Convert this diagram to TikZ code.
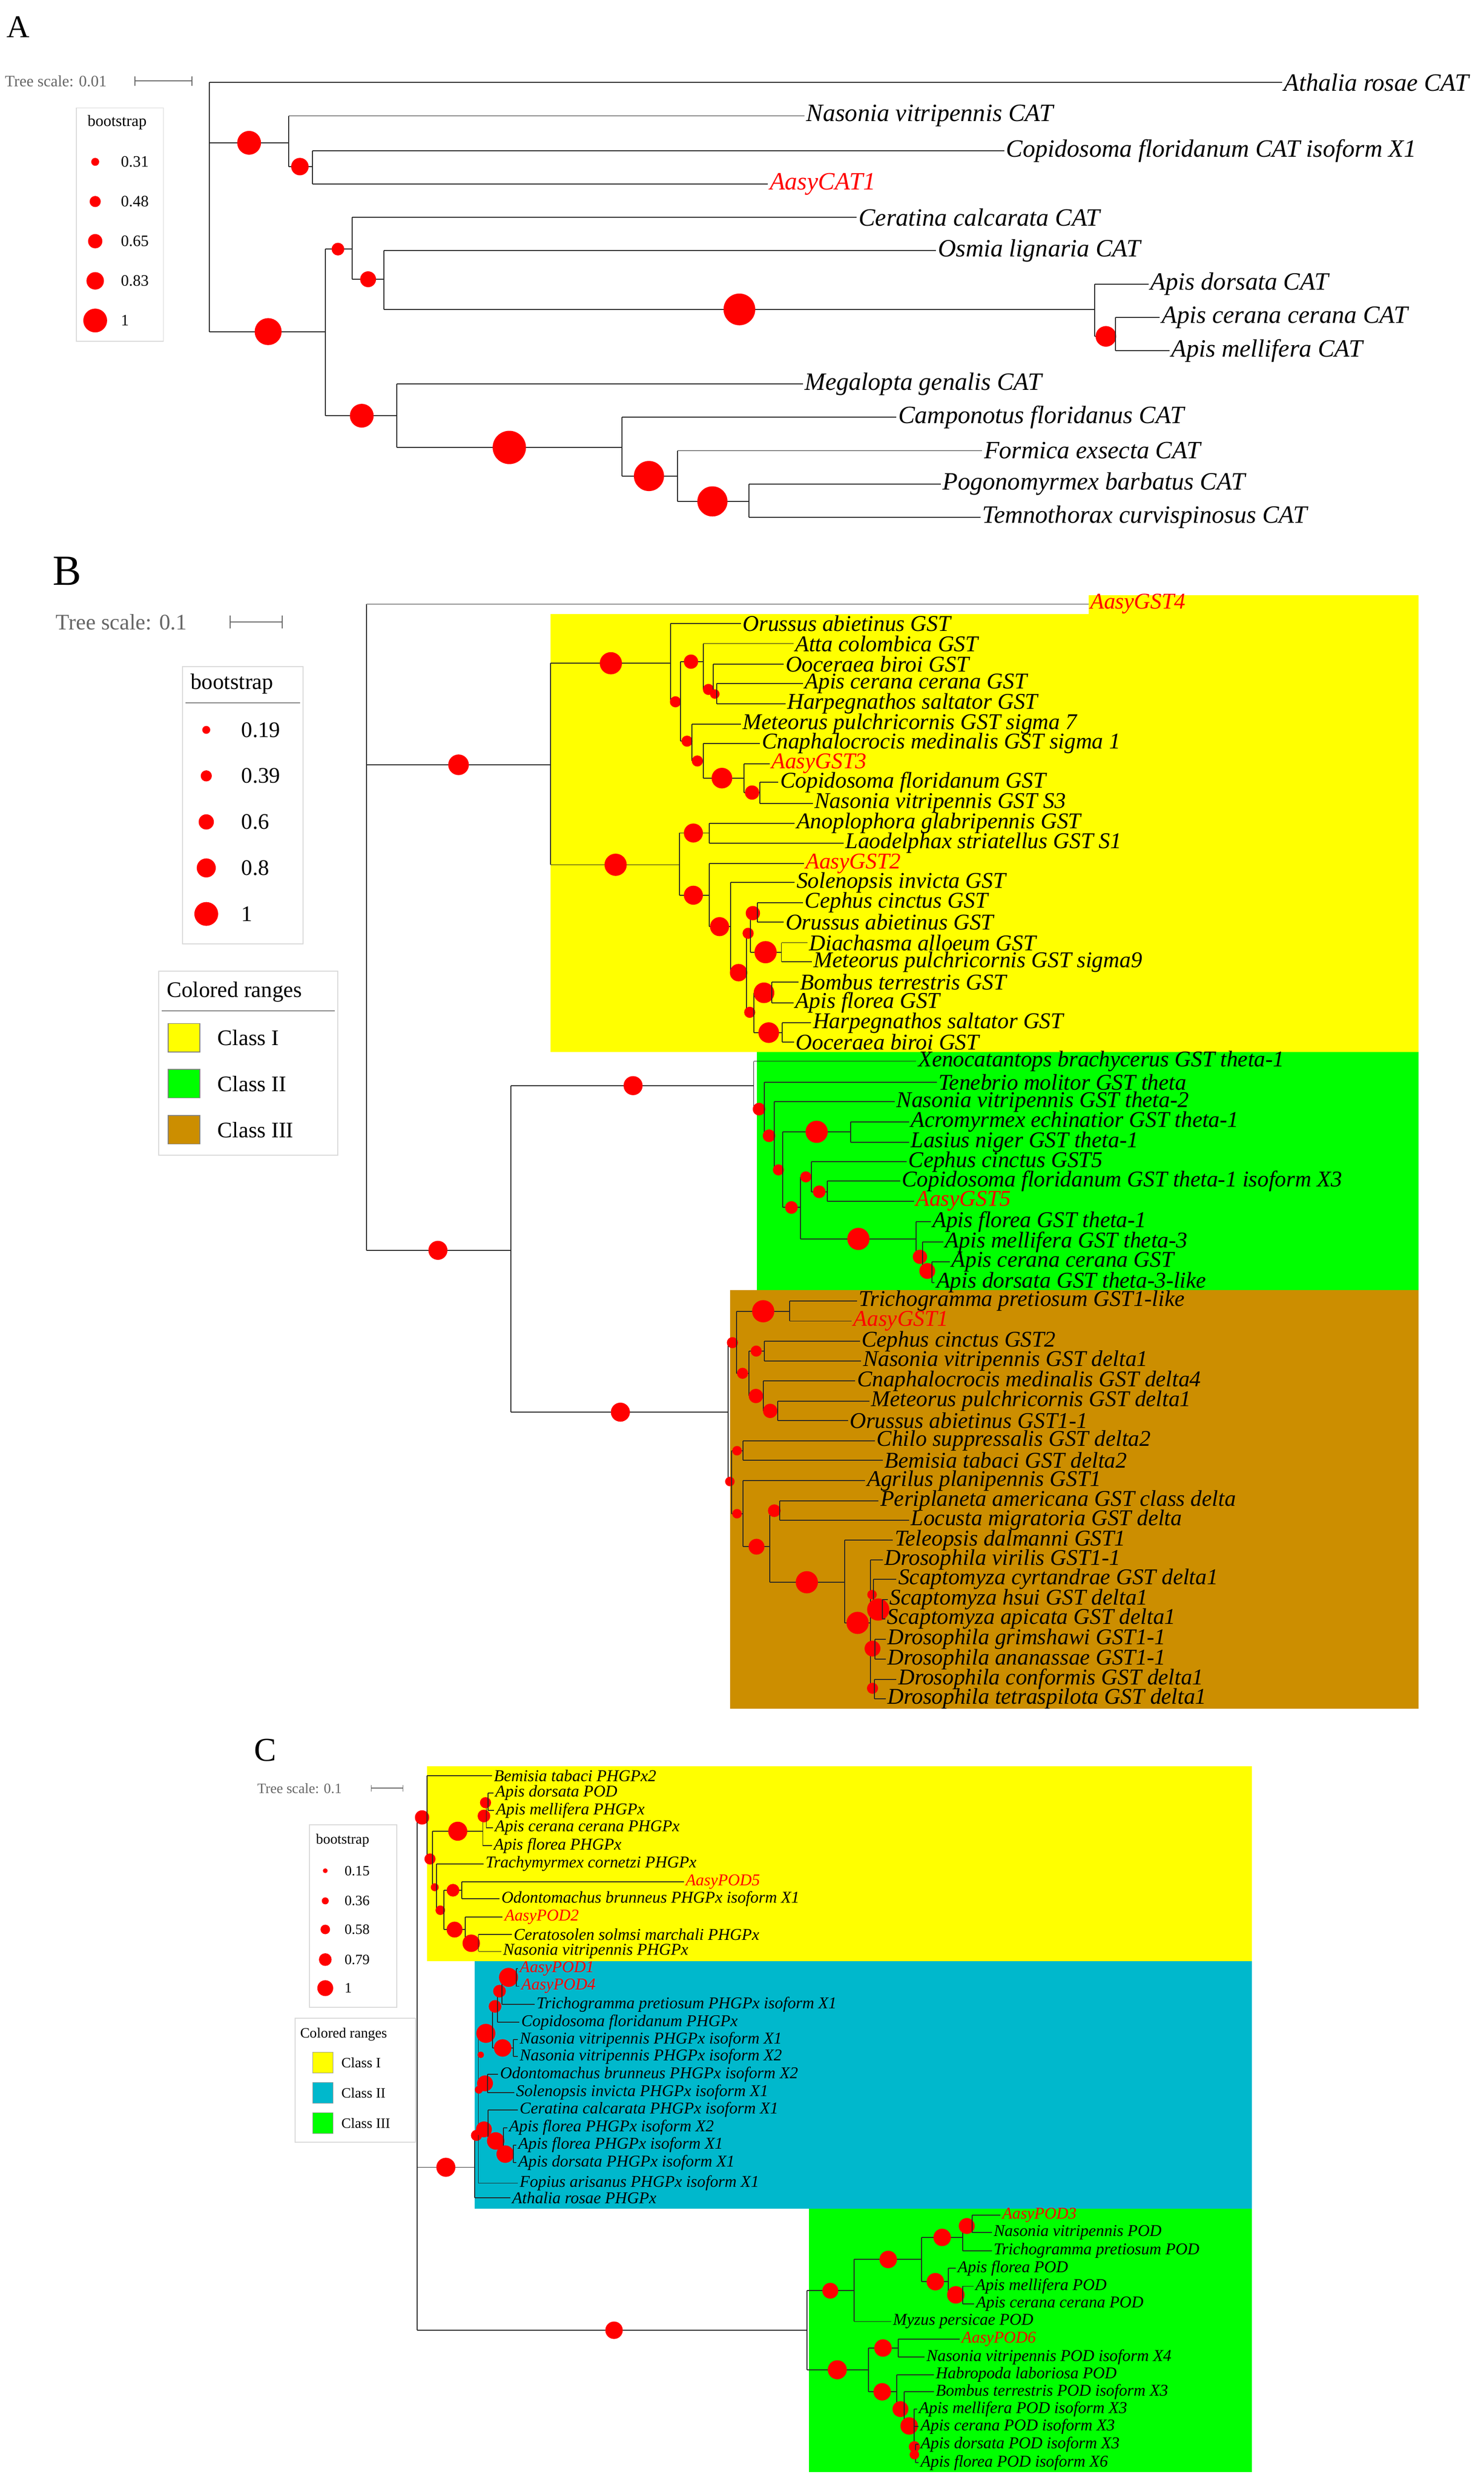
\documentclass[tikz,border=0pt]{standalone}
\usepackage{fontspec}
\setmainfont{Liberation Serif}
\newcounter{lfc}
\definecolor{cyel}{HTML}{FFFF00}
\definecolor{cgrn}{HTML}{00FF00}
\definecolor{cbrn}{HTML}{CC8E00}
\definecolor{ctea}{HTML}{00B8CC}
\definecolor{bsred}{HTML}{FF0000}
\tikzset{tl/.style={line width=0.6pt,draw=black!85},
 bs/.style={fill=bsred},
 lgbox/.style={draw=black!15,line width=0.6pt},
 lgtext/.style={anchor=west,inner sep=0pt},
 scl/.style={text=black!60,anchor=west,inner sep=0pt}}
\newcommand\LF[5][black]{\draw[tl] (#2,#4) -- (#3,#4);\stepcounter{lfc}\node[lf,text=#1,anchor=west,inner sep=1pt] (leaf\arabic{lfc}) at (#3,#4) {#5};}
\newcommand\BR[5]{\draw[tl] (#1,#3) -- (#2,#3);\fill[bs] (#4,#3) circle (#5pt);}
\newcommand\IN[3]{\draw[tl] (#1,#2) -- (#1,#3);}
\newcommand\Bs[3]{\fill[bs] (#1,#2) circle (#3pt);}
\begin{document}
\begin{tikzpicture}[x=1pt,y=-1pt]
\useasboundingbox (0,0) rectangle (935,1563);
\fill[white] (0,0) rectangle (935,1563);
% ================= Panel A =================
\node[anchor=west,inner sep=0pt,font=\fontsize{20}{20}\selectfont] (lettA) at (4,17) {A};
\node[scl,font=\fontsize{10}{10}\selectfont] (tsA) at (3,51) {Tree scale: 0.01};
\draw[black!60,line width=0.5pt] (85,51) -- (121,51) (85,48) -- (85,54) (121,48) -- (121,54);
\draw[lgbox] (48,68) rectangle (103,215);
\node[lgtext,font=\fontsize{10}{10}\selectfont] (bsA) at (55,77) {bootstrap};
\foreach \y/\r/\t in {102/2.5/0.31,127/3.5/0.48,152/4.5/0.65,177/5.5/0.83,202/7.5/1}{
 \fill[bs] (60,\y) circle (\r pt); \node[lgtext,font=\fontsize{10}{10}\selectfont] at (76,\y) {\t};}
\begin{scope}
\tikzset{lf/.style={font=\fontsize{15.7}{15.7}\selectfont\itshape}}
\IN{132}{52}{209}
\LF{132}{808}{52}{Athalia rosae CAT}
\BR{132}{182}{90}{157}{7.5}\IN{182}{73}{105}
\LF{182}{507}{73}{Nasonia vitripennis CAT}
\BR{182}{197}{105}{189}{5.5}\IN{197}{95}{116}
\LF{197}{633}{95}{Copidosoma floridanum CAT isoform X1}
\LF[red]{197}{484}{116}{AasyCAT1}
\BR{132}{205}{209}{169}{8.5}\IN{205}{157}{262}
\BR{205}{222}{157}{213}{4}\IN{222}{137}{176}
\LF{222}{540}{137}{Ceratina calcarata CAT}
\BR{222}{242}{176}{232}{5}\IN{242}{158}{195}
\LF{242}{590}{158}{Osmia lignaria CAT}
\BR{242}{690}{195}{466}{10}\IN{690}{179}{212}
\LF{690}{724}{179}{Apis dorsata CAT}
\BR{690}{703}{212}{697}{6.5}\IN{703}{200}{221}
\LF{703}{731}{200}{Apis cerana cerana CAT}
\LF{703}{737}{221}{Apis mellifera CAT}
\BR{205}{250}{262}{228}{7.5}\IN{250}{242}{282}
\LF{250}{506}{242}{Megalopta genalis CAT}
\BR{250}{392}{282}{321}{10.5}\IN{392}{263}{300}
\LF{392}{565}{263}{Camponotus floridanus CAT}
\BR{392}{427}{300}{409}{9.5}\IN{427}{284}{316}
\LF{427}{619}{284}{Formica exsecta CAT}
\BR{427}{472}{316}{449}{9.5}\IN{472}{305}{326}
\LF{472}{593}{305}{Pogonomyrmex barbatus CAT}
\LF{472}{618}{326}{Temnothorax curvispinosus CAT}
\end{scope}
% ================= Panel B =================
\node[anchor=west,inner sep=0pt,font=\fontsize{27}{27}\selectfont] (lettB) at (33,360) {B};
\fill[cyel] (347,387) rectangle (894,663);
\fill[cyel] (686,375) rectangle (894,387);
\fill[cgrn] (477,663) rectangle (894,813);
\fill[cbrn] (460,813) rectangle (894,1077);
\node[scl,font=\fontsize{14}{14}\selectfont] (tsB) at (35,392) {Tree scale: 0.1};
\draw[black!60,line width=0.6pt] (145,392) -- (178,392) (145,388) -- (145,396) (178,388) -- (178,396);
\draw[lgbox] (115,420) rectangle (191,595);
\node[lgtext,font=\fontsize{14}{14}\selectfont] (bsB) at (120,431) {bootstrap};
\draw[black!50,line width=0.5pt] (117,443) -- (189,443);
\foreach \y/\r/\t in {460/2.5/0.19,489/3.5/0.39,518/4.8/0.6,547/6/0.8,576/7.5/1}{
 \fill[bs] (130,\y) circle (\r pt); \node[lgtext,font=\fontsize{14}{14}\selectfont] at (152,\y) {\t};}
\draw[lgbox] (100,612) rectangle (213,728);
\node[lgtext,font=\fontsize{14}{14}\selectfont] (crB) at (105,625) {Colored ranges};
\draw[black!50,line width=0.5pt] (102,637) -- (211,637);
\foreach \y/\c/\t in {654/cyel/Class I,683/cgrn/Class II,712/cbrn/Class III}{
 \filldraw[fill=\c,draw=black!50,line width=0.4pt] (106,\y-9) rectangle (126,\y+9);
 \node[lgtext,font=\fontsize{14}{14}\selectfont] at (137,\y) {\t};}
\begin{scope}
\tikzset{lf/.style={font=\fontsize{14.2}{14.2}\selectfont\itshape}}
\IN{231}{380.6}{788}
\draw[line width=0.6pt,black!45] (231,380.6) -- (686,380.6);
\node[lf,text=red,anchor=west,inner sep=1pt] (gst4) at (686,380.6) {AasyGST4};
\BR{231}{347}{482}{289}{6.5}\IN{347}{418}{545}
\BR{347}{422.7}{418}{385}{7}\IN{422.7}{393}{442.3}
\LF{422.7}{467}{393}{Orussus abietinus GST}
\BR{422.7}{429}{442.3}{425.7}{3.5}\IN{429}{417}{467.1}
\BR{429}{443.2}{417}{435.5}{4.5}\IN{443.2}{405.6}{434.5}
\LF{443.2}{500}{405.6}{Atta colombica GST}
\BR{443.2}{449.4}{434.5}{446.5}{3.5}\IN{449.4}{418.5}{437.4}
\LF{449.4}{494}{418.5}{Ooceraea biroi GST}
\BR{449.4}{451.6}{437.4}{450.5}{3}\IN{451.6}{430.8}{443.5}
\LF{451.6}{506}{430.8}{Apis cerana cerana GST}
\LF{451.6}{495}{443.5}{Harpegnathos saltator GST}
\BR{429}{436}{467.1}{433}{3.5}\IN{436}{456.3}{479.6}
\LF{436}{467}{456.3}{Meteorus pulchricornis GST sigma 7}
\BR{436}{443.2}{479.6}{439.5}{3.5}\IN{443.2}{468.6}{490.4}
\LF{443.2}{479}{468.6}{Cnaphalocrocis medinalis GST sigma 1}
\BR{443.2}{469}{490.4}{455}{6.5}\IN{469}{481.3}{499.5}
\LF[red]{469}{485}{481.3}{AasyGST3}
\BR{469}{478.8}{499.5}{474}{4.5}\IN{478.8}{493}{506.3}
\LF{478.8}{490.6}{493}{Copidosoma floridanum GST}
\LF{478.8}{512.3}{506.3}{Nasonia vitripennis GST S3}
\BR{347}{428.2}{545}{388}{7}\IN{428.2}{525}{564.2}
\BR{428.2}{446.9}{525}{437}{6}\IN{446.9}{518.8}{531.3}
\LF{446.9}{500.9}{518.8}{Anoplophora glabripennis GST}
\LF{446.9}{531.7}{531.3}{Laodelphax striatellus GST S1}
\BR{428.2}{446.9}{564.2}{437}{6}\IN{446.9}{544.3}{584}
\LF[red]{446.9}{506.6}{544.3}{AasyGST2}
\BR{446.9}{460.5}{584}{453.5}{6}\IN{460.5}{556.2}{613}
\LF{460.5}{500.9}{556.2}{Solenopsis invicta GST}
\BR{460.5}{470.6}{613}{465.5}{5.5}\IN{470.6}{588.2}{638}
\BR{470.6}{472.9}{588.2}{471.5}{3.5}\IN{472.9}{575.5}{600.1}
\BR{472.9}{477.4}{575.5}{474.5}{4.5}\IN{477.4}{568.9}{581.2}
\LF{477.4}{506.1}{568.9}{Cephus cinctus GST}
\LF{477.4}{494}{581.2}{Orussus abietinus GST}
\BR{472.9}{492.5}{600.1}{482.5}{7}\IN{492.5}{594.1}{606.2}
\LF{492.5}{508.9}{594.1}{Diachasma alloeum GST}
\LF{492.5}{511.6}{606.2}{Meteorus pulchricornis GST sigma9}
\BR{470.6}{475.1}{638}{472.5}{3.5}\IN{475.1}{625.7}{650.8}
\BR{475.1}{486.5}{625.7}{481.5}{6.5}\IN{486.5}{619}{632}
\LF{486.5}{503.2}{619}{Bombus terrestris GST}
\LF{486.5}{500.2}{632}{Apis florea GST}
\BR{475.1}{493}{650.8}{484.5}{6.5}\IN{493}{644.6}{656.9}
\LF{493}{511.2}{644.6}{Harpegnathos saltator GST}
\LF{493}{500.4}{656.9}{Ooceraea biroi GST}
% green
\BR{231}{322}{788}{276}{6}\IN{322}{684.2}{890}
\BR{322}{475}{684.2}{399}{6}\IN{475}{668.8}{699}
\LF{475}{577.5}{668.8}{Xenocatantops brachycerus GST theta-1}
\BR{475}{481.8}{699}{478.4}{4}\IN{481.8}{682}{715.8}
\LF{481.8}{590.5}{682}{Tenebrio molitor GST theta}
\BR{481.8}{487.9}{715.8}{484.7}{4}\IN{487.9}{694.4}{737.3}
\LF{487.9}{563.9}{694.4}{Nasonia vitripennis GST theta-2}
\BR{487.9}{493.4}{737.3}{490.6}{3.5}\IN{493.4}{713.3}{761}
\BR{493.4}{536}{713.3}{514.7}{7}\IN{536}{707.1}{719.8}
\LF{536}{573}{707.1}{Acromyrmex echinatior GST theta-1}
\LF{536}{573}{719.8}{Lasius niger GST theta-1}
\BR{493.4}{504.5}{761}{498.8}{4}\IN{504.5}{741.7}{780.8}
\BR{504.5}{511.3}{741.7}{507.9}{3.5}\IN{511.3}{732.2}{751.1}
\LF{511.3}{571.4}{732.2}{Cephus cinctus GST5}
\BR{511.3}{521.3}{751.1}{516.3}{4}\IN{521.3}{744.4}{757}
\LF{521.3}{567.3}{744.4}{Copidosoma floridanum GST theta-1 isoform X3}
\LF[red]{521.3}{576}{757}{AasyGST5}
\BR{504.5}{577.5}{780.8}{541}{7}\IN{577.5}{770}{792.1}
\LF{577.5}{586.6}{770}{Apis florea GST theta-1}
\BR{577.5}{581.4}{792.1}{579.8}{4.5}\IN{581.4}{782.7}{801}
\LF{581.4}{594.6}{782.7}{Apis mellifera GST theta-3}
\BR{581.4}{587.3}{801}{584.4}{5}\IN{587.3}{795.3}{808.3}
\LF{587.3}{598.6}{795.3}{Apis cerana cerana GST}
\LF{587.3}{589}{808.3}{Apis dorsata GST theta-3-like}
% brown
\BR{322}{458.9}{890}{391}{6}\IN{458.9}{846.2}{933.7}
\BR{458.9}{464.3}{846.2}{461.6}{3.5}\IN{464.3}{826.4}{865.5}
\BR{464.3}{497.7}{826.4}{481}{7}\IN{497.7}{819.9}{832.6}
\LF{497.7}{540.1}{819.9}{Trichogramma pretiosum GST1-like}
\LF[red]{497.7}{536.7}{832.6}{AasyGST1}
\BR{464.3}{472}{865.5}{468}{3.5}\IN{472}{851.5}{879.8}
\BR{472}{481.8}{851.5}{476.6}{3.5}\IN{481.8}{845.3}{857.7}
\LF{481.8}{541.9}{845.3}{Cephus cinctus GST2}
\LF{481.8}{542.8}{857.7}{Nasonia vitripennis GST delta1}
\BR{472}{481.1}{879.8}{476.4}{4.5}\IN{481.1}{870.4}{889.2}
\LF{481.1}{539}{870.4}{Cnaphalocrocis medinalis GST delta4}
\BR{481.1}{490.2}{889.2}{485.4}{4.5}\IN{490.2}{883}{895.4}
\LF{490.2}{548}{883}{Meteorus pulchricornis GST delta1}
\LF{490.2}{534.4}{895.4}{Orussus abietinus GST1-1}
\BR{458.9}{461.1}{933.7}{460}{3}\IN{461.1}{914.3}{954}
\BR{461.1}{468.2}{914.3}{464.5}{3}\IN{468.2}{908.1}{920.3}
\LF{468.2}{551.4}{908.1}{Chilo suppressalis GST delta2}
\LF{468.2}{556.4}{920.3}{Bemisia tabaci GST delta2}
\BR{461.1}{468.2}{954}{464.5}{3}\IN{468.2}{933.2}{974.8}
\LF{468.2}{545.3}{933.2}{Agrilus planipennis GST1}
\BR{468.2}{485.2}{974.8}{476.8}{5}\IN{485.2}{952.1}{997.2}
\BR{485.2}{491.3}{952.1}{488}{4}\IN{491.3}{945.9}{958}
\LF{491.3}{553.7}{945.9}{Periplaneta americana GST class delta}
\LF{491.3}{573}{958}{Locusta migratoria GST delta}
\BR{485.2}{532.4}{997.2}{508.5}{7}\IN{532.4}{970.7}{1022.8}
\LF{532.4}{562.8}{970.7}{Teleopsis dalmanni GST1}
\BR{532.4}{548.7}{1022.8}{540.5}{7}\IN{548.7}{983.1}{1064}
\LF{548.7}{556.4}{983.1}{Drosophila virilis GST1-1}
\BR{548.7}{550.6}{1005}{549.6}{3}\IN{550.6}{995.3}{1014.4}
\LF{550.6}{565}{995.3}{Scaptomyza cyrtandrae GST delta1}
\BR{550.6}{556}{1014.4}{553.5}{7}\IN{556}{1008.1}{1020.3}
\LF{556}{559.4}{1008.1}{Scaptomyza hsui GST delta1}
\LF{556}{558}{1020.3}{Scaptomyza apicata GST delta1}
\BR{548.7}{551.4}{1039}{549.9}{5}\IN{551.4}{1033}{1045.7}
\LF{551.4}{558.2}{1033}{Drosophila grimshawi GST1-1}
\LF{551.4}{558.2}{1045.7}{Drosophila ananassae GST1-1}
\BR{548.7}{551}{1064}{549.9}{3.5}\IN{551}{1058.4}{1070.5}
\LF{551}{565}{1058.4}{Drosophila conformis GST delta1}
\LF{551}{558.2}{1070.5}{Drosophila tetraspilota GST delta1}
\end{scope}
% ================= Panel C =================
\node[anchor=west,inner sep=0pt,font=\fontsize{21}{21}\selectfont] (lettC) at (160,1103) {C};
\fill[cyel] (269,1113) rectangle (789,1236);
\fill[ctea] (299,1236) rectangle (789,1392);
\fill[cgrn] (510,1392) rectangle (789,1558);
\node[scl,font=\fontsize{9}{9}\selectfont] (tsC) at (162,1127) {Tree scale: 0.1};
\draw[black!60,line width=0.5pt] (234,1127) -- (254,1127) (234,1125) -- (234,1129) (254,1125) -- (254,1129);
\draw[lgbox] (195,1150) rectangle (250,1265);
\node[lgtext,font=\fontsize{9}{9}\selectfont] (bsC) at (199,1160) {bootstrap};
\foreach \y/\r/\t in {1179/1.5/0.15,1198/2.2/0.36,1216/3/0.58,1235/4/0.79,1253/5/1}{
 \fill[bs] (205,\y) circle (\r pt); \node[lgtext,font=\fontsize{9}{9}\selectfont] at (217,\y) {\t};}
\draw[lgbox] (186,1272) rectangle (262,1350);
\node[lgtext,font=\fontsize{9}{9}\selectfont] (crC) at (189,1282) {Colored ranges};
\foreach \y/\c/\t in {1300/cyel/Class I,1319/ctea/Class II,1338/cgrn/Class III}{
 \filldraw[fill=\c,draw=black!40,line width=0.3pt] (197,\y-6.5) rectangle (210,\y+6.5);
 \node[lgtext,font=\fontsize{9}{9}\selectfont] at (215,\y) {\t};}
\begin{scope}
\tikzset{lf/.style={font=\fontsize{10.4}{10.4}\selectfont\itshape}}
\IN{263}{1145.4}{1468.6}
\BR{263}{269.2}{1145.4}{266}{4.5}\IN{269.2}{1119}{1171.6}
\LF{269.2}{310.1}{1119}{Bemisia tabaci PHGPx2}
\BR{269.2}{272.7}{1171.6}{271}{3.5}\IN{272.7}{1154.1}{1189.4}
\BR{272.7}{304.3}{1154.1}{288.5}{6}\IN{304.3}{1144.5}{1163.2}
\BR{304.3}{306.5}{1144.5}{305}{4}\IN{306.5}{1136.1}{1151.8}
\BR{306.5}{307.6}{1136.1}{306}{3.5}\IN{307.6}{1130}{1141}
\LF{307.6}{311}{1130}{Apis dorsata POD}
\LF{307.6}{311.5}{1141}{Apis mellifera PHGPx}
\LF{306.5}{310.7}{1151.8}{Apis cerana cerana PHGPx}
\LF{304.3}{310}{1163.2}{Apis florea PHGPx}
\BR{272.7}{275.2}{1189.4}{274}{2.5}\IN{275.2}{1174.6}{1203.9}
\LF{275.2}{304.9}{1174.6}{Trachymyrmex cornetzi PHGPx}
\BR{275.2}{279.9}{1203.9}{277.5}{3}\IN{279.9}{1191.3}{1216.1}
\BR{279.9}{290.9}{1191.3}{285.5}{4}\IN{290.9}{1185.9}{1196.7}
\LF[red]{290.9}{431}{1185.9}{AasyPOD5}
\LF{290.9}{314.9}{1196.7}{Odontomachus brunneus PHGPx isoform X1}
\BR{279.9}{293.2}{1216.1}{286.5}{5}\IN{293.2}{1208.1}{1224.7}
\LF[red]{293.2}{316.8}{1208.1}{AasyPOD2}
\BR{293.2}{301.5}{1224.7}{297}{5.5}\IN{301.5}{1219.1}{1229.9}
\LF{301.5}{322.6}{1219.1}{Ceratosolen solmsi marchali PHGPx}
\LF{301.5}{315.9}{1229.9}{Nasonia vitripennis PHGPx}
% teal
\BR{263}{299.2}{1365.9}{281}{6}\IN{299.2}{1345.8}{1385}
\LF{299.2}{321.6}{1385}{Athalia rosae PHGPx}
\BR{299.2}{301.5}{1345.8}{300.3}{3.5}\IN{301.5}{1281.5}{1375.9}
\LF{301.5}{326.4}{1375.9}{Fopius arisanus PHGPx isoform X1}
\BR{301.5}{310.3}{1281.5}{306.2}{6}\IN{310.3}{1264.5}{1290.7}
\BR{310.3}{313.4}{1264.5}{312}{4}\IN{313.4}{1254.9}{1274.5}
\BR{313.4}{316.4}{1254.9}{314.8}{4}\IN{316.4}{1246.2}{1263.3}
\BR{316.4}{325.5}{1246.2}{320.5}{6}\IN{325.5}{1240.6}{1251.8}
\LF[red]{325.5}{326.4}{1240.6}{AasyPOD1}
\LF[red]{325.5}{327.4}{1251.8}{AasyPOD4}
\LF{316.4}{337}{1263.3}{Trichogramma pretiosum PHGPx isoform X1}
\LF{313.4}{327.4}{1274.5}{Copidosoma floridanum PHGPx}
\BR{310.3}{323.5}{1290.7}{316.8}{5.5}\IN{323.5}{1285.5}{1296}
\LF{323.5}{326.4}{1285.5}{Nasonia vitripennis PHGPx isoform X1}
\LF{323.5}{326.4}{1296}{Nasonia vitripennis PHGPx isoform X2}
\BR{301.5}{307.2}{1313}{305.7}{5}\IN{307.2}{1307.3}{1318.7}
\LF{307.2}{314}{1307.3}{Odontomachus brunneus PHGPx isoform X2}
\LF{307.2}{324.1}{1318.7}{Solenopsis invicta PHGPx isoform X1}
\BR{301.5}{307.6}{1342}{305}{5}\IN{307.6}{1329.7}{1349.3}
\LF{307.6}{326.4}{1329.7}{Ceratina calcarata PHGPx isoform X1}
\BR{307.6}{317.2}{1349.3}{312.4}{5.5}\IN{317.2}{1340.9}{1357.6}
\LF{317.2}{319.7}{1340.9}{Apis florea PHGPx isoform X2}
\BR{317.2}{323.5}{1357.6}{318.4}{5.5}\IN{323.5}{1351.9}{1362.9}
\LF{323.5}{325.5}{1351.9}{Apis florea PHGPx isoform X1}
\LF{323.5}{325.5}{1362.9}{Apis dorsata PHGPx isoform X1}
\Bs{303}{1295}{2}\Bs{301.8}{1317}{2.5}
% green
\BR{263}{508.5}{1468.6}{387}{5.5}\IN{508.5}{1443.7}{1493.5}
\BR{508.5}{538.3}{1443.7}{523.3}{5}\IN{538.3}{1424}{1463.1}
\LF{538.3}{561.7}{1463.1}{Myzus persicae POD}
\BR{538.3}{580.9}{1424}{559.8}{5.5}\IN{580.9}{1410.1}{1438}
\BR{580.9}{606.8}{1410.1}{593.8}{5.5}\IN{606.8}{1402.9}{1418.5}
\BR{606.8}{612.6}{1402.9}{609.3}{5}\IN{612.6}{1396}{1406.9}
\LF[red]{612.6}{630.5}{1396}{AasyPOD3}
\LF{612.6}{625.1}{1406.9}{Nasonia vitripennis POD}
\LF{606.8}{625.1}{1418.5}{Trichogramma pretiosum POD}
\BR{580.9}{597.8}{1438}{589.5}{5.5}\IN{597.8}{1429.5}{1446.3}
\LF{597.8}{602.4}{1429.5}{Apis florea POD}
\BR{597.8}{606.8}{1446.3}{602.4}{5.5}\IN{606.8}{1440.9}{1452}
\LF{606.8}{613.6}{1440.9}{Apis mellifera POD}
\LF{606.8}{614}{1452}{Apis cerana cerana POD}
\BR{508.5}{547.3}{1493.5}{527.7}{6}\IN{547.3}{1479.8}{1507.4}
\BR{547.3}{566}{1479.8}{556.5}{5.5}\IN{566}{1474.1}{1485.5}
\LF[red]{566}{604.9}{1474.1}{AasyPOD6}
\LF{566}{582.8}{1485.5}{Nasonia vitripennis POD isoform X4}
\BR{547.3}{565.2}{1507.4}{556}{5.5}\IN{565.2}{1496.6}{1518.3}
\LF{565.2}{588.6}{1496.6}{Habropoda laboriosa POD}
\BR{565.2}{569.8}{1518.3}{567.5}{5}\IN{569.8}{1507.4}{1528.9}
\LF{569.8}{588.6}{1507.4}{Bombus terrestris POD isoform X3}
\BR{569.8}{576.1}{1528.9}{573}{5.5}\IN{576.1}{1518.3}{1542}
\LF{576.1}{578}{1518.3}{Apis mellifera POD isoform X3}
\LF{576.1}{579}{1529.2}{Apis cerana POD isoform X3}
\BR{576.1}{577}{1542}{576.3}{3.5}\IN{577}{1540.6}{1552}
\LF{577}{579}{1540.6}{Apis dorsata POD isoform X3}
\LF{577}{579}{1552}{Apis florea POD isoform X6}
\Bs{576.3}{1547}{3}
\end{scope}
\end{tikzpicture}
\end{document}
